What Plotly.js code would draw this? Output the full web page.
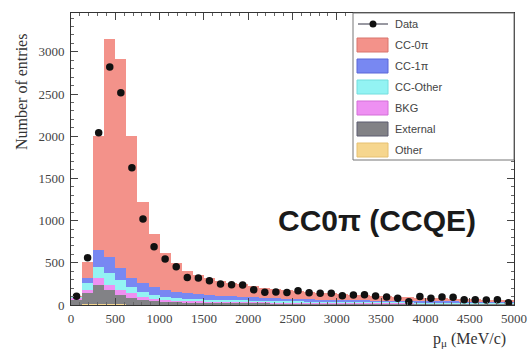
<!DOCTYPE html>
<html>
<head>
<meta charset="utf-8">
<script src="https://cdn.plot.ly/plotly-3.0.1.min.js"></script>
<style>
html,body{margin:0;padding:0;background:#fff;}
#chart{width:530px;height:351px;}
</style>
</head>
<body>
<div id="chart"></div>
<script>
// Bin centres of the muon momentum histogram (MeV/c), 125 MeV/c bins from 0 to 5000
var binCenters = [62.5,187.5,312.5,437.5,562.5,687.5,812.5,937.5,1062.5,1187.5,
  1312.5,1437.5,1562.5,1687.5,1812.5,1937.5,2062.5,2187.5,2312.5,2437.5,
  2562.5,2687.5,2812.5,2937.5,3062.5,3187.5,3312.5,3437.5,3562.5,3687.5,
  3812.5,3937.5,4062.5,4187.5,4312.5,4437.5,4562.5,4687.5,4812.5,4937.5];

// Stacked MC components (bottom to top)
var other    = [5,8,10,8,6,5,4,3,3,2, 2,2,2,2,2,2,2,2,1,1, 1,1,1,1,1,1,1,1,1,1, 1,1,1,1,1,1,1,1,1,1];
var external = [55,132,230,172,114,75,56,42,32,28, 25,23,21,20,19,18,17,16,15,14, 14,13,13,12,12,11,11,11,10,10, 10,9,9,9,8,8,8,8,7,7];
var bkg      = [20,40,80,60,60,60,35,30,25,20, 18,17,16,15,14,13,13,12,12,11, 11,10,10,10,9,9,9,8,8,8, 8,7,7,7,7,6,6,6,6,6];
var ccOther  = [10,80,130,140,120,75,60,45,35,30, 28,26,25,24,23,22,21,20,19,18, 17,17,16,15,15,14,14,13,13,12, 12,12,11,11,11,10,10,10,10,9];
var cc1pi    = [10,60,200,190,140,105,105,95,85,75, 65,58,52,47,43,40,37,34,32,30, 28,26,25,24,23,22,21,20,19,18, 17,17,16,16,15,15,14,14,13,13];
var cc0pi    = [10,190,1350,2580,2470,1680,960,625,440,345, 262,229,199,177,161,150,132,116,109,101, 94,88,81,76,70,65,59,55,51,47, 42,40,38,34,32,30,27,24,23,21];

// Data points
var dataCounts = [105,560,2040,2820,2515,1625,1020,690,545,452, 326,320,287,250,240,238,182,150,155,148, 170,145,140,138,110,118,120,108,95,79, 39,100,80,95,93,63,62,58,62,27];

var legendNames = ['Data','CC-0\u03c0','CC-1\u03c0','CC-Other','BKG','External','Other'];
var colors = {
  cc0pi:'#f3928a', cc1pi:'#7888f2', ccOther:'#93f3f3', bkg:'#ee90f2', external:'#828286', other:'#f6d68e'
};
var edgeColors = {
  cc0pi:'#d9746c', cc1pi:'#5a67d8', ccOther:'#72dede', bkg:'#d46fd8', external:'#5c5c70', other:'#e6c070'
};

function barTrace(name, y, key){
  return {type:'bar', x:binCenters, y:y, name:name, width:125,
    marker:{color:colors[key], line:{width:0}}, showlegend:false, hoverinfo:'skip'};
}

var traces = [
  barTrace('Other', other, 'other'),
  barTrace('External', external, 'external'),
  barTrace('BKG', bkg, 'bkg'),
  barTrace('CC-Other', ccOther, 'ccOther'),
  barTrace('CC-1\u03c0', cc1pi, 'cc1pi'),
  barTrace('CC-0\u03c0', cc0pi, 'cc0pi'),
  {type:'scatter', mode:'markers', x:binCenters, y:dataCounts, name:'Data',
   marker:{color:'#111', size:7.5}, showlegend:false}
];

// Plot area in pixels
var L=71, R=16, T=13, B=46, W=530, H=351;
var pw = W-L-R, ph = H-T-B;
function px2x(p){ return (p-L)/pw; }
function px2y(p){ return (H-B-p)/ph; }

var shapes = [];
var annotations = [];

// Legend box
shapes.push({type:'rect', xref:'paper', yref:'paper', x0:px2x(353), x1:px2x(514), y0:px2y(160), y1:px2y(13),
  line:{color:'#777', width:1}, fillcolor:'#fff', layer:'above'});
var rowY = [24,45,66,87,108,129,150];
var swKeys = [null,'cc0pi','cc1pi','ccOther','bkg','external','other'];
for (var i=0;i<legendNames.length;i++){
  var cy = rowY[i];
  if (i===0){
    shapes.push({type:'line', xref:'paper', yref:'paper', x0:px2x(358), x1:px2x(388), y0:px2y(cy), y1:px2y(cy),
      line:{color:'#334', width:1}, layer:'above'});
    shapes.push({type:'circle', xref:'paper', yref:'paper', x0:px2x(369.5), x1:px2x(376.5), y0:px2y(cy+3.5), y1:px2y(cy-3.5),
      fillcolor:'#111', line:{color:'#111', width:0}, layer:'above'});
  } else {
    shapes.push({type:'rect', xref:'paper', yref:'paper', x0:px2x(357), x1:px2x(388), y0:px2y(cy+7), y1:px2y(cy-7),
      fillcolor:colors[swKeys[i]], line:{color:edgeColors[swKeys[i]], width:1}, layer:'above'});
  }
  annotations.push({xref:'paper', yref:'paper', x:px2x(393), y:px2y(cy), xanchor:'left', yanchor:'middle',
    text:legendNames[i], showarrow:false, font:{family:'Liberation Sans, Arial, sans-serif', size:11, color:'#444'}});
}

// Big label
annotations.push({xref:'paper', yref:'paper', x:px2x(377), y:px2y(220), xanchor:'center', yanchor:'middle',
  text:'CC0\u03c0 (CCQE)', showarrow:false,
  font:{family:'Liberation Sans, Arial, sans-serif', size:30, color:'#1a1a1a', weight:'bold'}});

// Axis titles (ROOT style: right/top aligned)
annotations.push({xref:'paper', yref:'paper', x:px2x(508), y:px2y(339), xanchor:'right', yanchor:'middle',
  text:'p<sub>\u03bc</sub> (MeV/c)', showarrow:false,
  font:{family:'Liberation Serif, Times New Roman, serif', size:16, color:'#333'}});
annotations.push({xref:'paper', yref:'paper', x:px2x(22), y:px2y(92), xanchor:'center', yanchor:'middle',
  textangle:-90, text:'Number of entries', showarrow:false,
  font:{family:'Liberation Serif, Times New Roman, serif', size:16, color:'#333'}});

var axisFont = {family:'Liberation Serif, Times New Roman, serif', size:13, color:'#444'};

var layout = {
  width:W, height:H,
  margin:{l:L, r:R, t:T, b:B, pad:0},
  paper_bgcolor:'#fff', plot_bgcolor:'#fff',
  barmode:'stack', bargap:0,
  showlegend:false,
  xaxis:{range:[0,5000], dtick:500, tick0:0, ticks:'inside', ticklen:7, tickwidth:1, tickcolor:'#444',
    minor:{dtick:100, ticks:'inside', ticklen:3, tickcolor:'#666'},
    showline:true, linecolor:'#333', linewidth:1, mirror:'allticks', showgrid:false, zeroline:false,
    tickfont:axisFont, ticklabelstandoff:1},
  yaxis:{range:[0,3460], dtick:500, tick0:0, ticks:'inside', ticklen:7, tickwidth:1, tickcolor:'#444',
    minor:{dtick:100, ticks:'inside', ticklen:3, tickcolor:'#666'},
    showline:true, linecolor:'#333', linewidth:1, mirror:'allticks', showgrid:false, zeroline:false,
    tickfont:axisFont, ticklabelstandoff:3},
  shapes:shapes,
  annotations:annotations
};

Plotly.newPlot('chart', traces, layout, {staticPlot:true, displayModeBar:false});
</script>
</body>
</html>
